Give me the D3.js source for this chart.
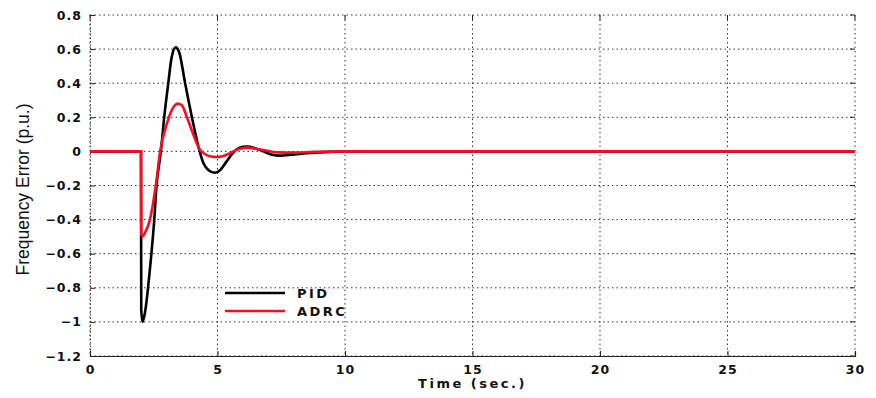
<!DOCTYPE html>
<html>
<head>
<meta charset="utf-8">
<script src="https://cdn.jsdelivr.net/npm/d3@7"></script>
<style>
  body { margin: 0; background: #fff; }
  svg text { fill: #111; }
</style>
</head>
<body>
<div id="plot"></div>
<script>
// time samples (sec.) and frequency error (p.u.)
var pidTime  = [0, 2.0, 2.01, 2.06, 2.15, 2.35, 2.52, 2.61, 2.78, 2.91, 3.07, 3.2, 3.36, 3.5, 3.73, 3.99, 4.3, 4.45, 4.65, 4.9, 5.1, 5.35, 5.6, 5.85, 6.15, 6.45, 6.8, 7.1, 7.45, 7.9, 8.5, 9.2, 10, 11, 30];
var pidError = [0, 0, -0.93, -1.0, -0.95, -0.69, -0.4, -0.2, 0.0, 0.2, 0.4, 0.55, 0.61, 0.58, 0.40, 0.205, 0.0, -0.07, -0.11, -0.125, -0.11, -0.06, -0.01, 0.02, 0.028, 0.02, 0.0, -0.018, -0.025, -0.02, -0.01, -0.004, -0.001, 0, 0];

var adrcTime  = [0, 2.0, 2.01, 2.06, 2.15, 2.35, 2.58, 2.75, 3.03, 3.2, 3.44, 3.6, 3.79, 4.0, 4.31, 4.5, 4.75, 4.97, 5.2, 5.5, 5.8, 6.15, 6.5, 6.9, 7.4, 8.0, 8.8, 10, 30];
var adrcError = [0, 0, -0.48, -0.5, -0.48, -0.4, -0.2, 0.0, 0.17, 0.24, 0.28, 0.27, 0.205, 0.12, 0.01, -0.015, -0.03, -0.033, -0.028, -0.01, 0.012, 0.022, 0.016, 0.005, -0.006, -0.007, -0.003, 0, 0];

var xTicks = [0, 5, 10, 15, 20, 25, 30];
var yTicks = [-1.2, -1, -0.8, -0.6, -0.4, -0.2, 0, 0.2, 0.4, 0.6, 0.8];

var seriesNames = ["PID", "ADRC"];
var seriesColors = ["#000000", "#ff0a1e"];

var margin = { top: 15, right: 21, bottom: 42, left: 90 };
var fullWidth = 876, fullHeight = 398;
var width = fullWidth - margin.left - margin.right;
var height = fullHeight - margin.top - margin.bottom;

var svg = d3.select("#plot").append("svg")
    .attr("width", fullWidth)
    .attr("height", fullHeight);

var g = svg.append("g")
    .attr("transform", "translate(" + margin.left + "," + margin.top + ")");

var x = d3.scaleLinear().domain([0, 30]).range([0, width]);
var y = d3.scaleLinear().domain([-1.2, 0.8]).range([height, 0]);

// dotted grid
g.selectAll("line.vgrid").data(xTicks).enter().append("line")
    .attr("class", "vgrid")
    .attr("x1", d => x(d)).attr("x2", d => x(d))
    .attr("y1", 0).attr("y2", height)
    .attr("stroke", "#333").attr("stroke-width", 1)
    .attr("stroke-dasharray", "1.5,3");

g.selectAll("line.hgrid").data(yTicks).enter().append("line")
    .attr("class", "hgrid")
    .attr("x1", 0).attr("x2", width)
    .attr("y1", d => y(d)).attr("y2", d => y(d))
    .attr("stroke", "#333").attr("stroke-width", 1)
    .attr("stroke-dasharray", "1.5,3");

// small inward ticks on right and top edges
g.selectAll("line.rtick").data(yTicks).enter().append("line")
    .attr("x1", width - 5).attr("x2", width)
    .attr("y1", d => y(d)).attr("y2", d => y(d))
    .attr("stroke", "#222");
g.selectAll("line.ttick").data(xTicks).enter().append("line")
    .attr("x1", d => x(d)).attr("x2", d => x(d))
    .attr("y1", 0).attr("y2", 5)
    .attr("stroke", "#222");

// axes
var xAxis = g.append("g")
    .attr("transform", "translate(0," + height + ")")
    .call(d3.axisBottom(x).tickValues(xTicks).tickSize(-5).tickPadding(9).tickFormat(d3.format("d")));
var yAxis = g.append("g")
    .call(d3.axisLeft(y).tickValues(yTicks).tickSize(-5).tickPadding(8).tickFormat(d => d === 0 ? "0" : d3.format("")(+d.toFixed(1))));

yAxis.select(".domain").attr("stroke", "#444").attr("stroke-dasharray", "1.5,2");
xAxis.select(".domain").attr("stroke", "#222").attr("stroke-width", 1.2);

[xAxis, yAxis].forEach(function(ax) {
    ax.selectAll("text")
        .style("font-family", "DejaVu Sans, sans-serif")
        .style("font-weight", "bold")
        .style("font-size", "12.5px")
        .style("letter-spacing", "1px")
        .attr("fill", "#111");
    ax.selectAll(".tick line").attr("stroke", "#222");
});

// curves
var line = d3.line()
    .x(d => x(d[0]))
    .y(d => y(d[1]))
    .curve(d3.curveMonotoneX);

var pidData = d3.zip(pidTime, pidError);
var adrcData = d3.zip(adrcTime, adrcError);

g.append("path")
    .datum(pidData)
    .attr("fill", "none")
    .attr("stroke", seriesColors[0])
    .attr("stroke-width", 2.6)
    .attr("d", line);

g.append("path")
    .datum(adrcData)
    .attr("fill", "none")
    .attr("stroke", seriesColors[1])
    .attr("stroke-width", 2.6)
    .attr("d", line);

// legend
var legend = g.append("g").attr("transform", "translate(135,278)");
seriesNames.forEach(function(name, i) {
    legend.append("line")
        .attr("x1", 0).attr("x2", 60)
        .attr("y1", i * 18).attr("y2", i * 18)
        .attr("stroke", seriesColors[i])
        .attr("stroke-width", 2.4);
    legend.append("text")
        .attr("x", 72).attr("y", i * 18)
        .attr("dy", "0.36em")
        .style("font-family", "DejaVu Sans, sans-serif")
        .style("font-weight", "bold")
        .style("font-size", "13px")
        .style("letter-spacing", "2.5px")
        .text(name);
});

// axis titles
svg.append("text")
    .attr("x", margin.left + x(15))
    .attr("y", 388)
    .attr("text-anchor", "middle")
    .style("font-family", "DejaVu Sans, sans-serif")
    .style("font-weight", "bold")
    .style("font-size", "13px")
    .style("letter-spacing", "2.5px")
    .text("Time (sec.)");

svg.append("text")
    .attr("transform", "translate(29," + (margin.top + y(-0.2) + 4) + ") rotate(-90)")
    .attr("text-anchor", "middle")
    .attr("textLength", 172)
    .attr("lengthAdjust", "spacingAndGlyphs")
    .style("font-family", "Liberation Sans Narrow, Arial Narrow, sans-serif")
    .style("font-size", "18px")
    .text("Frequency Error (p.u.)");
</script>
</body>
</html>
